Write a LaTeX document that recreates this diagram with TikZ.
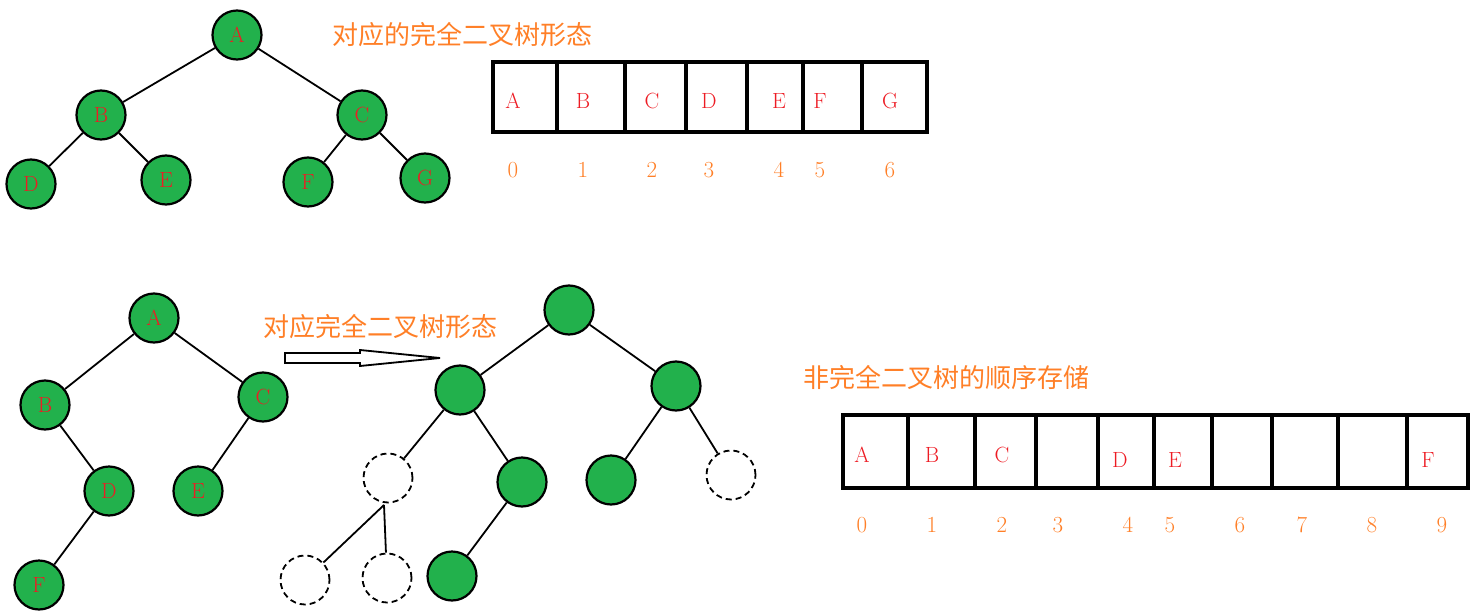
\documentclass[tikz,border=0pt]{standalone}
\usepackage{fontspec}
\newfontfamily\cjk{Noto Sans CJK SC}
\definecolor{tg}{HTML}{22B14C}
\definecolor{tor}{HTML}{FF7F27}
\definecolor{tred}{HTML}{ED1C24}
\begin{document}
\begin{tikzpicture}[x=1pt,y=-1pt,
 nd/.style={circle,draw=black,line width=2.2pt,fill=tg,minimum size=49pt,inner sep=0pt,text=tred,font=\fontsize{22}{22}\selectfont},
 dn/.style={circle,draw=black,line width=1.8pt,dash pattern=on 6pt off 4pt,minimum size=49pt,inner sep=0pt},
 ed/.style={line width=1.8pt},
 lt/.style={text=tred,font=\fontsize{22}{22}\selectfont},
 ix/.style={text=tor,font=\fontsize{23}{23}\selectfont},
 tt/.style={text=tor,font=\cjk\fontsize{26}{26}\selectfont},
 arr/.style={line width=3.6pt}]
\useasboundingbox (0,0) rectangle (1484,613);
% top tree
\node[nd] (A) at (237,35) {A};
\node[nd] (B) at (101,115) {B};
\node[nd] (C) at (362,115) {C};
\node[nd] (D) at (31,184) {D};
\node[nd] (E) at (166,180) {E};
\node[nd] (F) at (308,182) {F};
\node[nd] (G) at (425,178) {G};
\draw[ed] (A)--(B) (A)--(C) (B)--(D) (B)--(E) (C)--(F) (C)--(G);
\node[tt] (t1) at (462,35) {对应的完全二叉树形态};
% top array
\draw[arr] (493,62) rectangle (927,132);
\foreach \x in {557,625,686,747,803,862} \draw[arr] (\x,62)--(\x,132);
\foreach \x/\l [count=\i from 0] in {513/A,583/B,652/C,709/D,779/E,820/F,890/G}{
 \node[lt] (ta\i) at (\x,101) {\l};
 \node[ix] (ti\i) at (\x,170) {\i};}
% bottom left tree
\node[nd] (a) at (154,318) {A};
\node[nd] (b) at (45,405) {B};
\node[nd] (c) at (263,397) {C};
\node[nd] (d) at (109,491) {D};
\node[nd] (e) at (198,491) {E};
\node[nd] (f) at (39,585) {F};
\draw[ed] (a)--(b) (a)--(c) (b)--(d) (c)--(e) (d)--(f);
% arrow
\draw[line width=1.8pt,fill=white] (285,353)--(360,353)--(360,350)--(440,358)--(360,366)--(360,363)--(285,363)--cycle;
\node[tt] (t2) at (380,327) {对应完全二叉树形态};
% right tree
\node[nd] (r) at (569,310) {};
\node[nd] (rl) at (460,390) {};
\node[nd] (rr) at (676,386) {};
\node[dn] (rll) at (388,478) {};
\node[nd] (rlr) at (522,482) {};
\node[nd] (rrl) at (611,480) {};
\node[dn] (rrr) at (731,475) {};
\node[dn] (x1) at (305,580) {};
\node[dn] (x2) at (387,578) {};
\node[nd] (x3) at (452,576) {};
\coordinate (jn) at (384,505);
\draw[ed] (r)--(rl) (r)--(rr) (rl)--(rll) (rl)--(rlr) (rr)--(rrl) (rr)--(rrr) (jn)--(x1) (jn)--(x2) (rlr)--(x3);
\node[tt] (t3) at (946,378) {非完全二叉树的顺序存储};
% bottom array
\draw[arr] (843,415) rectangle (1468,488);
\foreach \x in {908,975,1036,1098,1154,1212,1272,1338,1407} \draw[arr] (\x,415)--(\x,488);
\node[lt] (ba) at (862,455) {A};
\node[lt] (bb) at (932,455) {B};
\node[lt] (bc) at (1002,455) {C};
\node[lt] (bd) at (1120,460) {D};
\node[lt] (be) at (1175,460) {E};
\node[lt] (bf) at (1428,460) {F};
\foreach \x [count=\i from 0] in {862,932,1002,1058,1128,1170,1240,1302,1372,1442}
 \node[ix] (bi\i) at (\x,525) {\i};
\end{tikzpicture}
\end{document}
